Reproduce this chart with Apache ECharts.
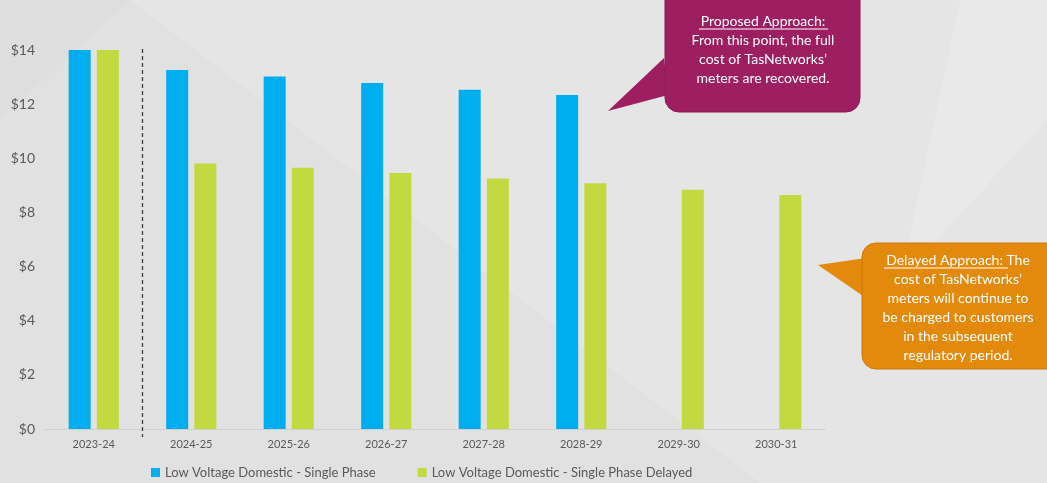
<!DOCTYPE html>
<html>
<head>
<meta charset="utf-8">
<script src="https://cdn.jsdelivr.net/npm/echarts@6/dist/echarts.min.js"></script>
<style>
html,body{margin:0;padding:0;width:1047px;height:483px;overflow:hidden;background:#e1e1e1;}
#c{width:1047px;height:483px;}
</style>
</head>
<body>
<div id="c"></div>
<script>
const categories = ['2023-24','2024-25','2025-26','2026-27','2027-28','2028-29','2029-30','2030-31'];
const singlePhase = [14.0, 13.26, 13.02, 12.78, 12.53, 12.34, null, null];
const singlePhaseDelayed = [14.0, 9.81, 9.65, 9.46, 9.25, 9.08, 8.84, 8.64];
const seriesNames = ['Low Voltage Domestic - Single Phase', 'Low Voltage Domestic - Single Phase Delayed'];
const yTicks = [0, 2, 4, 6, 8, 10, 12, 14];
const proposedLines = ['Proposed Approach:', 'From this point, the full', 'cost of TasNetworks’', 'meters are recovered.'];
const delayedLines = ['Delayed Approach: The', 'cost of TasNetworks’', 'meters will continue to', 'be charged to customers', 'in the subsequent', 'regulatory period.'];

const FONT = 'Lato, "Open Sans", sans-serif';
const chart = echarts.init(document.getElementById('c'), null, {renderer: 'canvas'});

function bgGraphics() {
  return [
    {type:'polygon', z:-10, silent:true, shape:{points:[[130,0],[1047,0],[1047,483],[760,483]]}, style:{fill:'#e5e5e5'}},
    {type:'polygon', z:-9, silent:true, shape:{points:[[960,0],[1047,0],[1047,120],[900,280]]}, style:{fill:'#e9e9e9'}},
    {type:'polygon', z:-10, silent:true, shape:{points:[[0,0],[130,0],[0,120]]}, style:{fill:'#dedede'}}
  ];
}

function calloutGraphics() {
  const g = [];
  // Proposed callout (purple)
  g.push({type:'polygon', z:100, shape:{points:[[608,111],[664,58],[668,95]]}, style:{fill:'#9e1e62'}});
  g.push({type:'rect', z:100, shape:{x:665, y:-20, width:195, height:132, r:14}, style:{fill:'#9e1e62', stroke:'#8a1a55', lineWidth:1}});
  proposedLines.forEach((t, i) => {
    g.push({type:'text', z:101, style:{text:t, x:763, y:21 + i*19.3, align:'center', verticalAlign:'middle', fill:'#ffffff', font:'14px ' + FONT}});
  });
  g.push({type:'line', z:101, shape:{x1:699, y1:29, x2:828, y2:29}, style:{stroke:'#ffffff', lineWidth:1}});
  // Delayed callout (orange)
  g.push({type:'polygon', z:100, shape:{points:[[818,265],[866,258],[866,298]]}, style:{fill:'#e3890b'}});
  g.push({type:'rect', z:100, shape:{x:862, y:243, width:200, height:126, r:14}, style:{fill:'#e3890b', stroke:'#c97808', lineWidth:1}});
  delayedLines.forEach((t, i) => {
    g.push({type:'text', z:101, style:{text:t, x:958, y:260 + i*19, align:'center', verticalAlign:'middle', fill:'#ffffff', font:'14px ' + FONT}});
  });
  g.push({type:'line', z:101, shape:{x1:884, y1:268, x2:1008, y2:268}, style:{stroke:'#ffffff', lineWidth:1}});
  return g;
}

const option = {
  backgroundColor: 'transparent',
  animation: false,
  textStyle: {fontFamily: FONT},
  grid: {left: 45, right: 222, top: 50, bottom: 54, containLabel: false},
  legend: {
    data: seriesNames,
    top: 461,
    left: 146,
    icon: 'rect',
    itemWidth: 9,
    itemHeight: 9,
    itemGap: 42,
    textStyle: {color: '#595959', fontSize: 13, fontFamily: FONT}
  },
  xAxis: {
    type: 'category',
    data: categories,
    axisLine: {show: true, lineStyle: {color: '#d0d0d0', width: 1}},
    axisTick: {show: false},
    axisLabel: {color: '#595959', fontSize: 11, margin: 10, fontFamily: FONT}
  },
  yAxis: {
    type: 'value',
    min: 0,
    max: 14,
    interval: 2,
    splitLine: {show: false},
    axisLine: {show: false},
    axisTick: {show: false},
    axisLabel: {color: '#595959', fontSize: 14, margin: 10, fontFamily: FONT,
      formatter: v => yTicks.includes(v) ? '$' + v : ''}
  },
  series: [
    {name: seriesNames[0], type: 'bar', data: singlePhase, barWidth: 22, barGap: '28%',
     itemStyle: {color: '#00aeef'}},
    {name: seriesNames[1], type: 'bar', data: singlePhaseDelayed, barWidth: 22, barGap: '28%',
     itemStyle: {color: '#c3d940'}}
  ],
  graphic: bgGraphics().concat(calloutGraphics())
};
chart.setOption(option);

// dashed separator between first and second category, placed via axis scale
const x0 = chart.convertToPixel({xAxisIndex: 0}, categories[0]);
const x1 = chart.convertToPixel({xAxisIndex: 0}, categories[1]);
const xm = (x0 + x1) / 2;
const yTop = chart.convertToPixel({yAxisIndex: 0}, 14);
const yBot = chart.convertToPixel({yAxisIndex: 0}, 0);
chart.setOption({
  graphic: bgGraphics().concat(calloutGraphics()).concat([
    {type:'line', z:50, shape:{x1:xm, y1:yTop - 1, x2:xm, y2:yBot + 8},
     style:{stroke:'#404040', lineWidth:1.3, lineDash:[4,3]}}
  ])
}, {replaceMerge: ['graphic']});
</script>
</body>
</html>
